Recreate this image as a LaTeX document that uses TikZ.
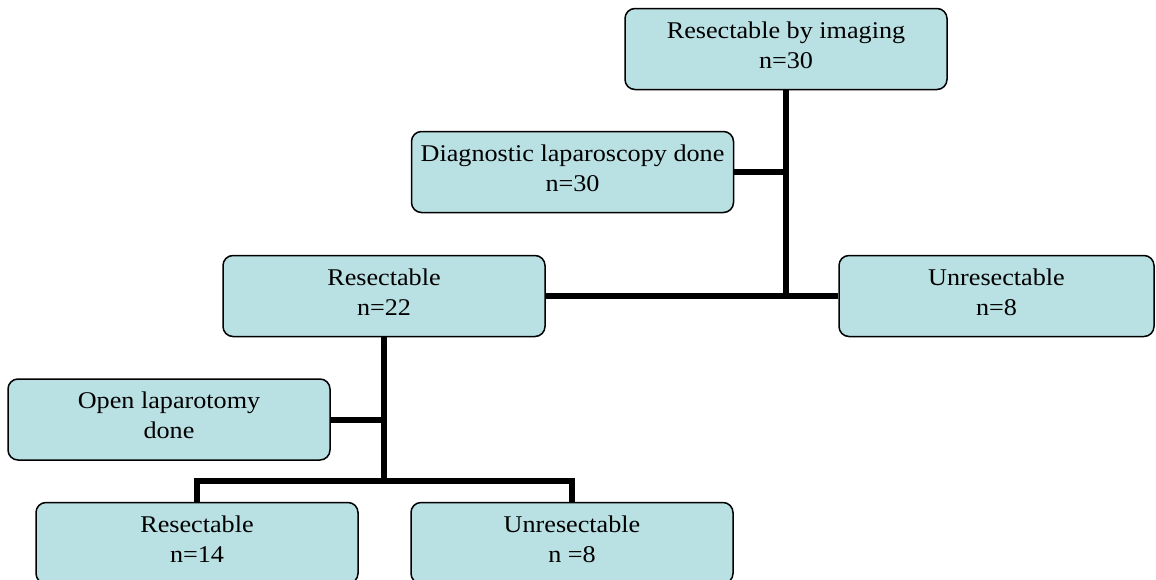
\documentclass[tikz,border=0pt]{standalone}
\usepackage{fontspec}
\setmainfont{Liberation Serif}[FakeStretch=1.09]
\usetikzlibrary{backgrounds}
\definecolor{boxfill}{RGB}{185,224,227}
\tikzset{
  box/.style={draw=black, line width=1.5pt, fill=boxfill, rounded corners=10pt,
    minimum width=322pt, minimum height=81pt, inner sep=0pt, align=center,
    text depth=8pt, font=\fontsize{24}{30}\selectfont},
  conn/.style={draw=black, line width=6pt}
}
\begin{document}
\begin{tikzpicture}[x=1pt,y=-1pt]
\useasboundingbox (0,0) rectangle (1156,579);
\node[box] (b1) at (786,49) {Resectable by imaging\\n=30};
\node[box] (b2) at (572.5,172) {Diagnostic laparoscopy done\\n=30};
\node[box] (b3) at (384,296) {Resectable\\n=22};
\node[box, minimum width=315pt] (b4) at (996.5,296) {Unresectable\\n=8};
\node[box] (b5) at (169,419.5) {Open laparotomy\\done};
\node[box] (b6) at (197,543) {Resectable\\n=14};
\node[box] (b7) at (572,543) {Unresectable\\n =8};
\coordinate (j1) at (786,296);
\coordinate (j2) at (384,481);
\begin{pgfonlayer}{background}
\draw[conn] (b1.south) -- (j1);
\draw[conn] (b2.east) -- (b2.east -| b1.south);
\draw[conn] (b3.east) -- (b4.west);
\draw[conn] (b3.south) -- (j2);
\draw[conn] (b5.east) -- (b5.east -| b3.south);
\draw[conn] (b6.north) |- (j2) -| (b7.north);
\end{pgfonlayer}
\end{tikzpicture}
\end{document}
